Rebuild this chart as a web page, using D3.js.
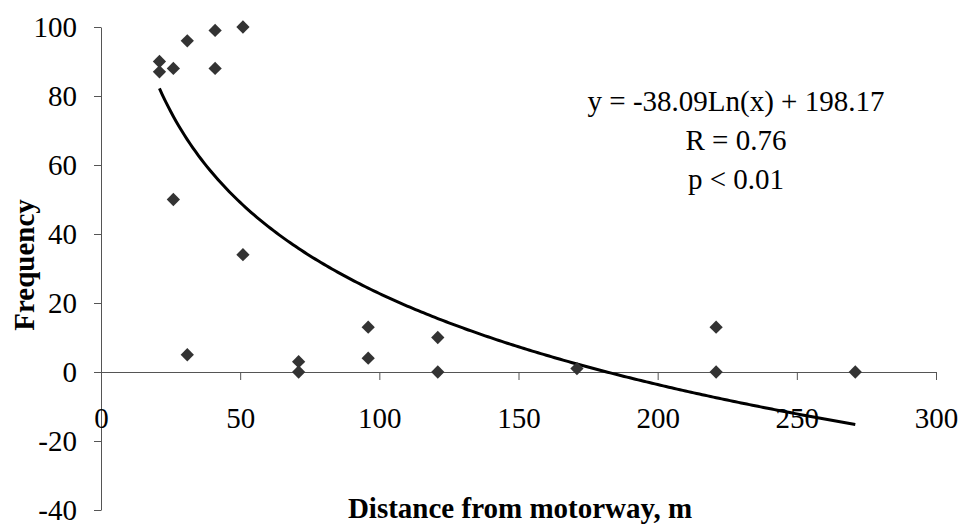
<!DOCTYPE html>
<html>
<head>
<meta charset="utf-8">
<script src="https://cdn.jsdelivr.net/npm/d3@7"></script>
<style>
  body { margin: 0; background: #fff; }
  text { font-family: "Times New Roman", "Liberation Serif", serif; }
</style>
</head>
<body>
<div id="chart"></div>
<script>
// data
var distance  = [21, 21, 26, 26, 31, 31, 41, 41, 51, 51, 71, 71, 96, 96, 121, 121, 171, 221, 221, 271];
var frequency = [90, 87, 88, 50, 96, 5, 99, 88, 100, 34, 3, 0, 13, 4, 10, 0, 1, 13, 0, 0];

var xTicks = [0, 50, 100, 150, 200, 250, 300];
var yTicks = [-40, -20, 0, 20, 40, 60, 80, 100];

// logarithmic trend line, as printed on the chart
var trendSlope = -38.09;
var trendIntercept = 198.17;
var trendFrom = 21, trendTo = 271;
var statLines = ["y = -38.09Ln(x) + 198.17", "R = 0.76", "p < 0.01"];

var width = 960, height = 525;

var svg = d3.select("#chart").append("svg")
    .attr("width", width)
    .attr("height", height);

var x = d3.scaleLinear().domain([0, 300]).range([101, 936]);
var y = d3.scaleLinear().domain([-40, 100]).range([510, 27]);

// plain hyphen for negatives, like the original
var fmt = function(d) { return String(d); };

// y axis
var yAxis = svg.append("g")
    .attr("transform", "translate(" + x(0) + ",0)")
    .call(d3.axisLeft(y).tickValues(yTicks).tickFormat(fmt)
        .tickSize(7).tickSizeOuter(0).tickPadding(17));

// x axis crosses at y = 0
var xAxis = svg.append("g")
    .attr("transform", "translate(0," + y(0) + ")")
    .call(d3.axisBottom(x).tickValues(xTicks).tickFormat(fmt)
        .tickSize(8).tickSizeOuter(0));

[yAxis, xAxis].forEach(function(ax) {
    ax.selectAll("path, line").attr("stroke", "#555").attr("stroke-width", 1);
    ax.selectAll("text")
        .attr("fill", "#000")
        .style("font-size", "29px")
        .style("font-family", "'Times New Roman', 'Liberation Serif', serif");
});
xAxis.selectAll("text").attr("y", 56).attr("dy", null);

// trend line
var trendPts = d3.range(trendFrom, trendTo + 0.5, 1).map(function(d) {
    return [d, trendSlope * Math.log(d) + trendIntercept];
});
svg.append("path")
    .datum(trendPts)
    .attr("fill", "none")
    .attr("stroke", "#000")
    .attr("stroke-width", 3)
    .attr("d", d3.line()
        .x(function(d) { return x(d[0]); })
        .y(function(d) { return y(d[1]); }));

// diamond markers
var pts = distance.map(function(d, i) { return { d: d, f: frequency[i] }; });
svg.selectAll(".pt")
    .data(pts)
    .enter().append("path")
    .attr("class", "pt")
    .attr("d", d3.symbol().type(d3.symbolSquare).size(88))
    .attr("transform", function(p) {
        return "translate(" + x(p.d) + "," + y(p.f) + ")rotate(45)";
    })
    .attr("fill", "#333");

// equation block
svg.selectAll(".stat")
    .data(statLines)
    .enter().append("text")
    .attr("class", "stat")
    .attr("x", 736)
    .attr("y", function(d, i) { return 111 + i * 39; })
    .attr("text-anchor", "middle")
    .style("font-size", "29px")
    .text(function(d) { return d; });

// axis titles
svg.append("text")
    .attr("x", 520)
    .attr("y", 518)
    .attr("text-anchor", "middle")
    .style("font-size", "29px")
    .style("font-weight", "bold")
    .text("Distance from motorway, m");

svg.append("text")
    .attr("transform", "translate(34,265)rotate(-90)")
    .attr("text-anchor", "middle")
    .style("font-size", "29px")
    .style("font-weight", "bold")
    .text("Frequency");
</script>
</body>
</html>
